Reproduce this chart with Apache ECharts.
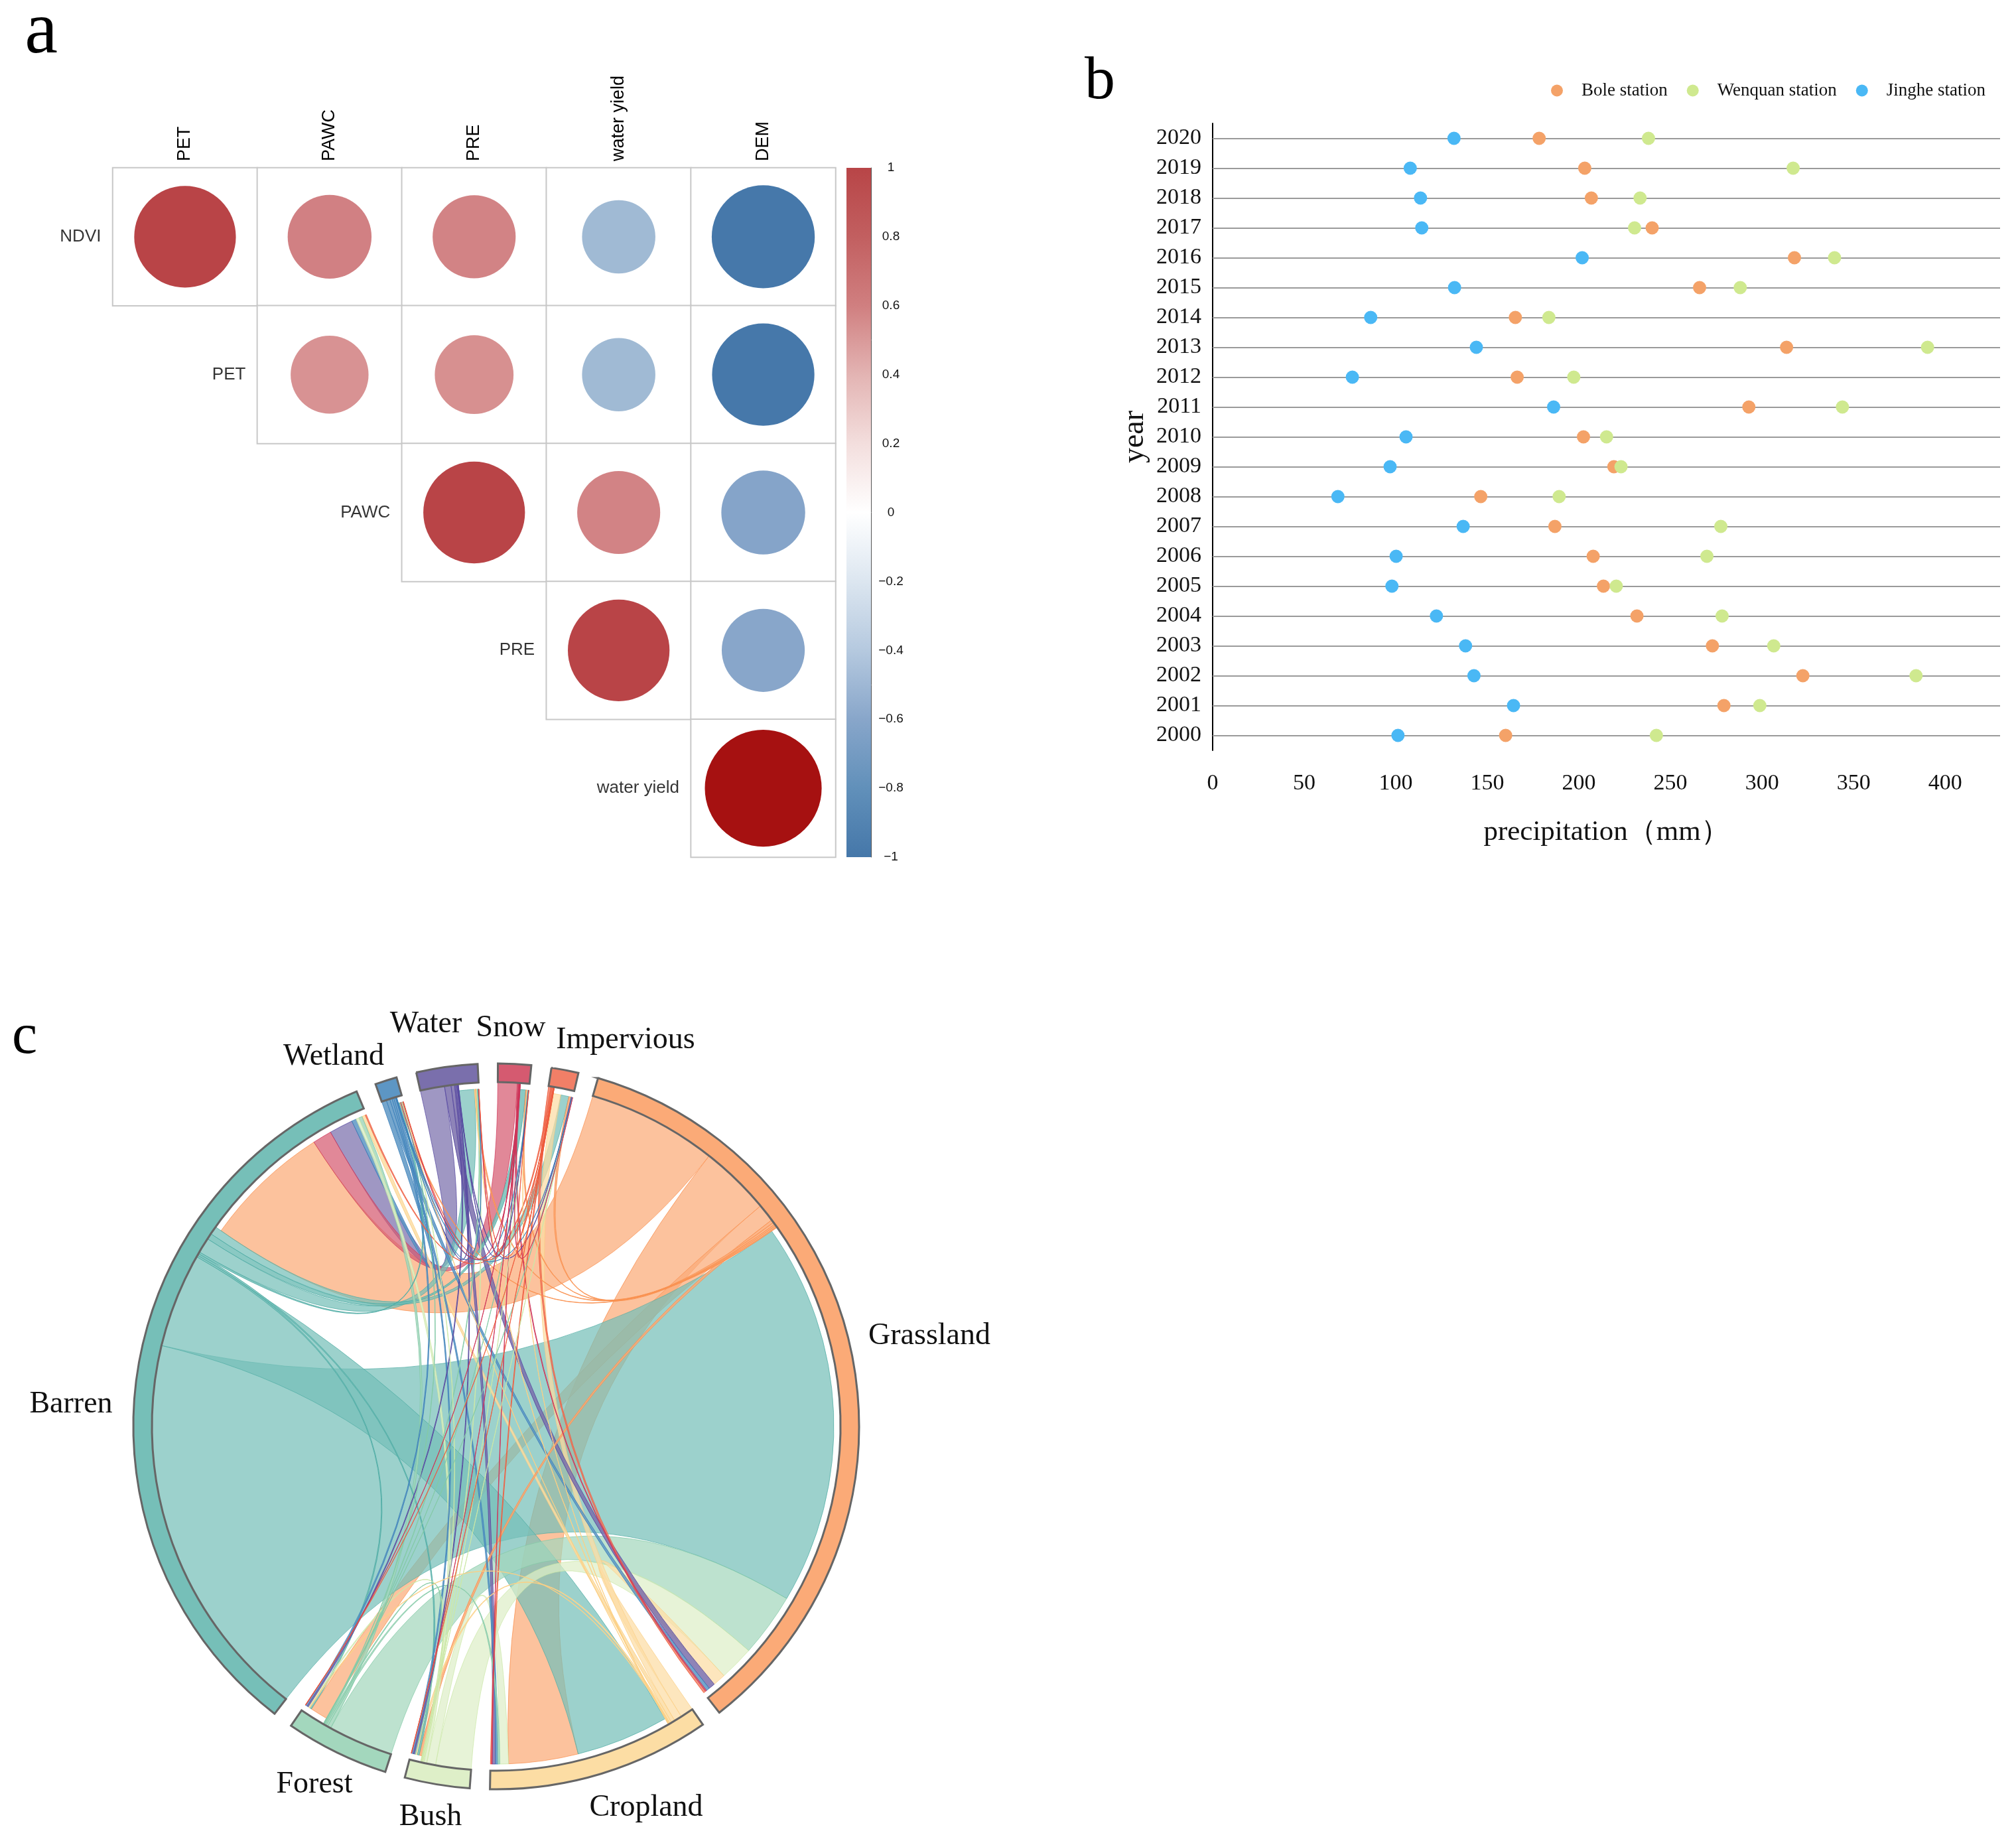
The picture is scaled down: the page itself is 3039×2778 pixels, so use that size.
<!DOCTYPE html>
<html><head><meta charset="utf-8">
<style>html,body{margin:0;padding:0;background:#fff}#c{width:3039px;height:2778px}</style>
<script src="https://cdn.jsdelivr.net/npm/echarts@6/dist/echarts.min.js"></script>
</head><body><div id="c"></div>
<script>
// ---------- panel a data
const corrCols = ['PET','PAWC','PRE','water yield','DEM'];
const corrRows = ['NDVI','PET','PAWC','PRE','water yield'];
const corrNDVI = [0.75,0.51,0.50,-0.39,-0.77];
const corrPET  = [null,0.44,0.45,-0.39,-0.76];
const corrPAWC = [null,null,0.75,0.50,-0.51];
const corrPRE  = [null,null,null,0.75,-0.50];
const corrWY   = [null,null,null,null,0.99];
const barTop = [1], barBottom = [-1];
// ---------- panel b data
const years = ['2000','2001','2002','2003','2004','2005','2006','2007','2008','2009','2010','2011','2012','2013','2014','2015','2016','2017','2018','2019','2020'];
const bole    = [160,279.2,322.3,272.9,231.7,213.4,207.8,186.9,146.4,219.1,202.5,292.8,166.3,313.4,165.3,265.9,317.7,240,206.8,203.2,178.3];
const wenquan = [242.3,298.8,384.1,306.4,278.2,220.4,269.9,277.5,189.2,223,215.1,343.9,197.2,390.4,183.6,288.1,339.6,230.4,233.4,317,238];
const jinghe  = [101.2,164.3,142.7,138.1,122.2,97.9,100.2,136.8,68.4,96.9,105.6,186.2,76.3,144,86.3,132.1,201.8,114.2,113.5,107.9,131.8];
// ---------- panel c data (clockwise sector order; outgoing flows in listed order, then incoming in listed order)
const sectors = ['Grassland','Cropland','Bush','Forest','Barren','Wetland','Water','Snow','Impervious'];
const grasslandOut = [['Barren',22],['Cropland',12],['Forest',3],['Bush',0.5],['Impervious',0.4],['Snow',0.25],['Water',0.25],['Wetland',0.15]];
const croplandOut  = [['Grassland',2.2],['Impervious',1.3],['Barren',0.6],['Bush',0.3],['Forest',0.15],['Water',0.1],['Wetland',0.05],['Snow',0.05]];
const bushOut      = [['Grassland',6],['Cropland',1.5],['Barren',0.5],['Forest',0.2],['Water',0.15],['Wetland',0.1],['Snow',0.05],['Impervious',0.05]];
const forestOut    = [['Grassland',11],['Barren',0.6],['Cropland',0.3],['Bush',0.2],['Water',0.15],['Wetland',0.1],['Snow',0.05],['Impervious',0.05]];
const barrenOut    = [['Grassland',66.2],['Cropland',16],['Forest',0.3],['Bush',0.3],['Wetland',0.3],['Water',2.6],['Snow',1],['Impervious',1.4]];
const wetlandOut   = [['Barren',0.8],['Grassland',0.6],['Cropland',0.4],['Forest',0.3],['Bush',0.3],['Water',0.1],['Snow',0.05],['Impervious',0.05]];
const waterOut     = [['Barren',4.1],['Grassland',1.1],['Cropland',0.6],['Forest',0.2],['Bush',0.2],['Wetland',0.1],['Impervious',0.1],['Snow',0.05]];
const snowOut      = [['Barren',3.3],['Grassland',0.2],['Cropland',0.1],['Forest',0.05],['Bush',0.05],['Wetland',0.05],['Water',0.02],['Impervious',0.02]];
const imperviousOut= [['Grassland',0.4],['Barren',0.2],['Cropland',0.2],['Forest',0.05],['Bush',0.05],['Wetland',0.05],['Snow',0.02],['Water',0.02]];
const flowsOut = {Grassland:grasslandOut,Cropland:croplandOut,Bush:bushOut,Forest:forestOut,Barren:barrenOut,Wetland:wetlandOut,Water:waterOut,Snow:snowOut,Impervious:imperviousOut};
const incomingOrder = {
  Grassland:['Barren','Forest','Bush','Cropland','Water','Wetland','Snow','Impervious'],
  Cropland:['Barren','Grassland','Bush','Forest','Wetland','Water','Snow','Impervious'],
  Bush:['Grassland','Barren','Cropland','Forest','Water','Wetland','Snow','Impervious'],
  Forest:['Grassland','Barren','Cropland','Bush','Water','Wetland','Snow','Impervious'],
  Barren:['Grassland','Snow','Water','Wetland','Bush','Forest','Cropland','Impervious'],
  Wetland:['Barren','Grassland','Water','Cropland','Forest','Bush','Snow','Impervious'],
  Water:['Barren','Cropland','Grassland','Bush','Forest','Wetland','Snow','Impervious'],
  Snow:['Barren','Grassland','Cropland','Bush','Forest','Wetland','Water','Impervious'],
  Impervious:['Cropland','Barren','Grassland','Water','Wetland','Bush','Forest','Snow']
};

// ---------- styles
const SERIF='"Liberation Serif","Times New Roman",serif', SANS='"Liberation Sans",Arial,sans-serif';
const ringColor={Grassland:'#FBAA77',Cropland:'#FCDDA4',Bush:'#DEEFC8',Forest:'#A3D7BD',Barren:'#76BFB8',Wetland:'#5D96C4',Water:'#7A6FAC',Snow:'#D55A70',Impervious:'#F17F67'};
const edgeColor={Grassland:'#F98F4E',Cropland:'#FBCF83',Bush:'#CBE7A6',Forest:'#82C9A6',Barren:'#4FACA4',Wetland:'#3C80BA',Water:'#5546A0',Snow:'#CE3358',Impervious:'#EE5A3C'};
const CX=748, CY=2150, R1=547, R0=519, ROUT=519, RIN=509, START=16.3, PAD=3.2;

// ---------- chord layout computed from the flow tables
const rad=d=>d*Math.PI/180;
const flowList=[]; sectors.forEach(s=>flowsOut[s].forEach(f=>flowList.push({s:s,t:f[0],v:f[1]})));
const total=flowList.reduce((a,f)=>a+f.v*2,0);
const scale=(360-PAD*sectors.length)/total;
const sectorAngles={}; let cursor=START;
sectors.forEach(s=>{
  const a0=cursor;
  flowsOut[s].forEach(f=>{const fl=flowList.find(x=>x.s===s&&x.t===f[0]);fl.s0=cursor;cursor+=fl.v*scale;fl.s1=cursor;});
  incomingOrder[s].forEach(src=>{const fl=flowList.find(x=>x.s===src&&x.t===s);if(!fl)return;fl.t0=cursor;cursor+=fl.v*scale;fl.t1=cursor;});
  sectorAngles[s]=[a0,cursor]; cursor+=PAD;
});
const pt=(a,r)=>[CX+r*Math.sin(rad(a)),CY-r*Math.cos(rad(a))];
const ribbonPath=f=>{
  const a=pt(f.s0,ROUT),b=pt(f.s1,ROUT),c=pt(f.t0,RIN),d=pt(f.t1,RIN);
  return `M${a[0]} ${a[1]}A${ROUT} ${ROUT} 0 0 1 ${b[0]} ${b[1]}Q${CX} ${CY} ${c[0]} ${c[1]}A${RIN} ${RIN} 0 0 1 ${d[0]} ${d[1]}Q${CX} ${CY} ${a[0]} ${a[1]}Z`;
};
const layerOf=f=>(f.s==='Grassland'&&f.v>=0.8)?0:1;
const drawOrder=flowList.slice().sort((x,y)=>(layerOf(x)-layerOf(y))||(y.v-x.v));

// ---------- panel a series data
const corrMatrix=[corrNDVI,corrPET,corrPAWC,corrPRE,corrWY];
const corrPoints=[],corrCells=[],rowLabels=[];
corrMatrix.forEach((row,r)=>{
  row.forEach((v,c)=>{ if(v!==null){corrPoints.push([c,r,v]);corrCells.push([c,r,1]);} });
  rowLabels.push({value:[r,r],name:corrRows[r]});
});
const CB_TICK=v=>{const t=+v.toFixed(1);return (t<0?'\u2212':'')+Math.abs(t);};

const panelLabels=[
 ['a',62,50,112],['b',1658,124,92],['c',37,1564,86]
];
const sectorLabels=[
 ['Grassland',1401,2014],['Barren',107,2117],['Forest',474,2690],['Bush',649,2739],['Cropland',974,2725],
 ['Wetland',503,1593],['Water',642,1544],['Snow',770,1550],['Impervious',943,1568]
];

const chart=echarts.init(document.getElementById('c'),null,{renderer:'canvas',width:3039,height:2778});
chart.setOption({
 animation:false,backgroundColor:'#fff',
 grid:[
  {left:170,top:253,width:1089.5,height:1039},
  {left:1828,top:186,width:1187,height:945},
  {left:1276,top:253,width:37,height:1039}
 ],
 xAxis:[
  {gridIndex:0,type:'category',position:'top',data:corrCols,axisLine:{show:false},axisTick:{show:false},splitLine:{show:false},
   axisLabel:{rotate:-90,margin:10,fontFamily:SANS,fontSize:27,color:'#000'}},
  {gridIndex:1,type:'value',min:0,max:430,interval:50,splitLine:{show:false},
   axisLine:{onZero:false,lineStyle:{color:'#000',width:3}},
   axisTick:{length:14,lineStyle:{color:'#000',width:2},customValues:[0,50,100,150,200,250,300,350,400]},
   axisLabel:{fontFamily:SERIF,fontSize:34,color:'#111',margin:33,customValues:[0,50,100,150,200,250,300,350,400]},
   name:'precipitation\uFF08mm\uFF09',nameLocation:'middle',nameGap:102,nameTextStyle:{fontFamily:SERIF,fontSize:43,color:'#111'}},
  {gridIndex:2,type:'category',data:[''],show:false}
 ],
 yAxis:[
  {gridIndex:0,type:'category',inverse:true,data:corrRows,axisLine:{show:false},axisTick:{show:false},axisLabel:{show:false},splitLine:{show:false}},
  {gridIndex:1,type:'category',data:years,axisTick:{show:false},axisLine:{lineStyle:{color:'#000',width:2}},splitLine:{show:false},
   axisLabel:{fontFamily:SERIF,fontSize:34,color:'#111',margin:17},
   name:'year',nameLocation:'middle',nameGap:94,nameTextStyle:{fontFamily:SERIF,fontSize:46,color:'#111'}},
  {gridIndex:2,type:'value',position:'right',min:-1,max:1,interval:0.2,splitLine:{show:false},
   axisLine:{show:true,lineStyle:{color:'#555',width:1}},axisTick:{length:8,lineStyle:{color:'#000',width:2}},
   axisLabel:{fontFamily:SANS,fontSize:19,color:'#111',margin:30,align:'center',formatter:CB_TICK}}
 ],
 visualMap:[{show:false,seriesIndex:1,dimension:2,min:-1,max:1,
   inRange:{color:['#4678AA','#4678AA','#88A6CA','#BFD3E1','#FFFFFF','#E9C2BE','#D28385','#B94447','#A50F0F']}}],
 legend:{data:['Bole station','Wenquan station','Jinghe station'],left:2333,top:118,itemWidth:20,itemHeight:18,itemGap:29,icon:'circle',
   textStyle:{fontFamily:SERIF,fontSize:27,color:'#111',padding:[0,0,0,22]}},
 series:[
  {type:'heatmap',xAxisIndex:0,yAxisIndex:0,data:corrCells,silent:true,
   itemStyle:{color:'#fff',borderColor:'#C8C8C8',borderWidth:2},label:{show:false}},
  {type:'scatter',xAxisIndex:0,yAxisIndex:0,data:corrPoints,silent:true,z:3,itemStyle:{opacity:1},
   symbolSize:d=>177*Math.sqrt(Math.abs(d[2]))},
  {type:'scatter',xAxisIndex:0,yAxisIndex:0,data:rowLabels,silent:true,z:3,symbolSize:1,itemStyle:{color:'rgba(0,0,0,0)'},
   label:{show:true,position:'left',distance:126,formatter:'{b}',fontFamily:SANS,fontSize:26,color:'#000'}},
  {type:'bar',xAxisIndex:2,yAxisIndex:2,data:barTop,stack:'cb',barWidth:'100%',silent:true,
   itemStyle:{color:{type:'linear',x:0,y:0,x2:0,y2:1,colorStops:[{offset:0,color:'#B84547'},{offset:.2,color:'#C25F60'},{offset:.4,color:'#D07F80'},{offset:.6,color:'#E3B4B3'},{offset:.8,color:'#F3DEDD'},{offset:1,color:'#FFFFFF'}]}}},
  {type:'bar',xAxisIndex:2,yAxisIndex:2,data:barBottom,stack:'cb',barWidth:'100%',silent:true,
   itemStyle:{color:{type:'linear',x:0,y:0,x2:0,y2:1,colorStops:[{offset:0,color:'#FFFFFF'},{offset:.2,color:'#DCE6F0'},{offset:.4,color:'#B5C9DF'},{offset:.6,color:'#88A6CA'},{offset:.8,color:'#6190BA'},{offset:1,color:'#4577A9'}]}}},
  {name:'Bole station',type:'scatter',xAxisIndex:1,yAxisIndex:1,data:bole,symbolSize:20,itemStyle:{color:'#F4A268',opacity:1},z:4,
   markLine:{silent:true,symbol:'none',label:{show:false},animation:false,z:1,lineStyle:{color:'#9A9A9A',width:2,type:'solid'},data:years.map(y=>({yAxis:y}))}},
  {name:'Wenquan station',type:'scatter',xAxisIndex:1,yAxisIndex:1,data:wenquan,symbolSize:20,itemStyle:{color:'#CFE98F',opacity:1},z:4},
  {name:'Jinghe station',type:'scatter',xAxisIndex:1,yAxisIndex:1,data:jinghe,symbolSize:20,itemStyle:{color:'#4AB8F5',opacity:1},z:4},
  {type:'custom',coordinateSystem:'none',silent:true,z:5,data:drawOrder.map((f,i)=>[i,f.v]),
   renderItem:(p,api)=>{const f=drawOrder[api.value(0)];
     return {type:'path',shape:{pathData:ribbonPath(f)},style:{fill:ringColor[f.s],stroke:edgeColor[f.s],lineWidth:1,opacity:f.v<1.2?0.85:0.72}};}},
  {type:'custom',coordinateSystem:'none',silent:true,z:6,data:sectors.map((s,i)=>[i,sectorAngles[s][1]-sectorAngles[s][0]]),
   renderItem:(p,api)=>{const s=sectors[api.value(0)],a=sectorAngles[s];
     return {type:'sector',shape:{cx:CX,cy:CY,r0:R0,r:R1,startAngle:rad(a[0]-90),endAngle:rad(a[1]-90)},style:{fill:ringColor[s],stroke:'#666',lineWidth:3}};}}
 ],
 graphic:panelLabels.map(l=>({type:'text',x:l[1],y:l[2],z:10,silent:true,style:{text:l[0],font:`${l[3]}px ${SERIF}`,fill:'#000',align:'center',verticalAlign:'middle'}}))
  .concat(sectorLabels.map(l=>({type:'text',x:l[1],y:l[2],z:10,silent:true,style:{text:l[0],font:`46px ${SERIF}`,fill:'#111',align:'center',verticalAlign:'middle'}})))
});
</script></body></html>
